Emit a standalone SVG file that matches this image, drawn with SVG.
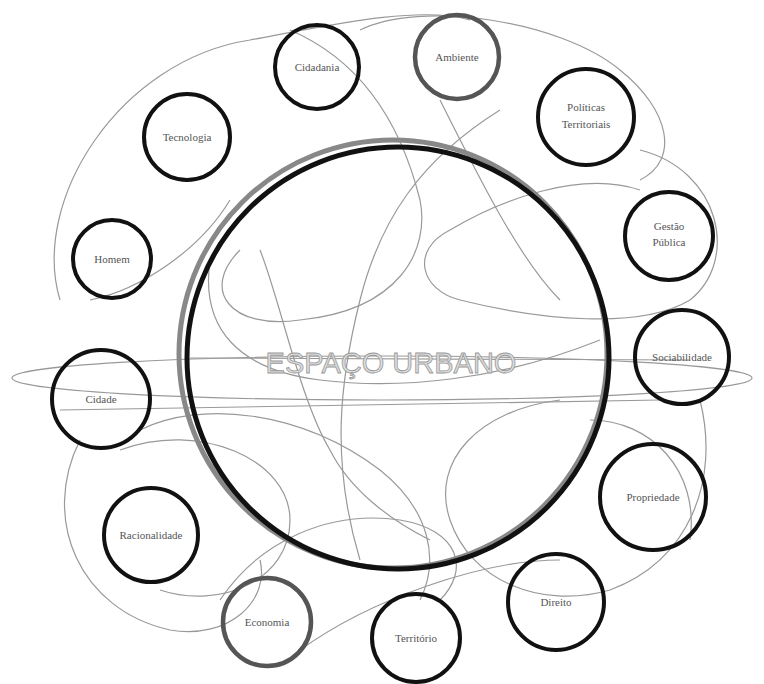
<svg xmlns="http://www.w3.org/2000/svg" width="764" height="684" viewBox="0 0 764 684">
<style>
.n{fill:none;stroke:#111;stroke-width:4}
.g{fill:none;stroke:#555;stroke-width:4.5}
.t{font-family:"Liberation Serif",serif;font-size:11px;fill:#555;text-anchor:middle}
.c{fill:none;stroke:#999;stroke-width:1.2}
</style>
<rect width="764" height="684" fill="#fff"/>
<g id="connectors">
<path class="c" d="M60,300 C30,200 120,60 250,40 C330,25 420,5 470,20"/>
<path class="c" d="M90,300 C140,290 200,250 230,200"/>
<path class="c" d="M360,30 C420,0 560,20 620,70 C670,110 680,160 640,180"/>
<path class="c" d="M290,30 C360,60 400,120 420,200 C430,250 400,310 300,320 C230,330 200,290 240,250"/>
<path class="c" d="M440,100 C480,180 520,260 560,300"/>
<path class="c" d="M500,110 C420,160 380,220 360,300 C340,380 330,460 360,560"/>
<path class="c" d="M640,150 C720,170 740,260 690,300 C640,330 540,320 460,300 C420,290 410,250 450,230 C500,200 580,170 640,190"/>
<path class="c" d="M190,358 L690,360"/>
<ellipse class="c" cx="382" cy="378" rx="370" ry="22"/>
<path class="c" d="M60,410 L660,400"/>
<path class="c" d="M210,260 C200,330 240,370 320,380 C400,390 500,380 600,340"/>
<path class="c" d="M700,400 C720,480 690,560 610,590 C540,610 470,580 450,520 C430,460 480,410 560,400"/>
<path class="c" d="M590,420 C650,420 700,470 690,540"/>
<path class="c" d="M80,440 C40,520 80,610 170,630 C230,640 270,600 260,560"/>
<path class="c" d="M120,450 C200,420 290,460 290,520 C290,580 220,610 160,590"/>
<path class="c" d="M220,600 C260,540 330,510 400,520 C460,530 470,570 440,600"/>
<path class="c" d="M300,650 C370,600 480,560 560,560"/>
<path class="c" d="M140,430 C200,400 300,410 380,470 C430,510 440,560 420,600"/>
<path class="c" d="M260,250 C280,300 300,400 330,450 C350,490 390,520 430,540"/>
</g>
<g id="espaco-urbano">
<circle cx="393" cy="354" r="214" fill="none" stroke="#888" stroke-width="5"/>
<circle cx="398" cy="358" r="211" fill="none" stroke="#111" stroke-width="5"/>
<text x="391" y="373" font-family="Liberation Sans, Arial, sans-serif" font-size="29" fill="#ddd" stroke="#999" stroke-width="0.8" text-anchor="middle">ESPAÇO URBANO</text>
</g>
<g id="cidadania"><circle class="n" cx="317" cy="67" r="42" stroke-width="3"/><text class="t" x="317" y="71">Cidadania</text></g>
<g id="ambiente"><circle class="g" cx="457" cy="57" r="42"/><text class="t" x="457" y="61">Ambiente</text></g>
<g id="politicas"><circle class="n" cx="586" cy="117" r="48"/><text class="t" x="586" y="111">Políticas</text><text class="t" x="586" y="128">Territoriais</text></g>
<g id="gestao"><circle class="n" cx="669" cy="236" r="44" stroke-width="3.5"/><text class="t" x="669" y="230">Gestão</text><text class="t" x="669" y="246">Pública</text></g>
<g id="sociabilidade"><circle class="n" cx="682" cy="357" r="47"/><text class="t" x="682" y="361">Sociabilidade</text></g>
<g id="propriedade"><circle class="n" cx="653" cy="497" r="53" stroke-width="3.5"/><text class="t" x="653" y="501">Propriedade</text></g>
<g id="direito"><circle class="n" cx="556" cy="602" r="48" stroke-width="5"/><text class="t" x="556" y="606">Direito</text></g>
<g id="territorio"><circle class="n" cx="416" cy="638" r="44"/><text class="t" x="416" y="642">Território</text></g>
<g id="economia"><circle class="g" cx="267" cy="622" r="44" stroke="#666" stroke-width="3.5"/><text class="t" x="267" y="626">Economia</text></g>
<g id="racionalidade"><circle class="n" cx="151" cy="535" r="47" stroke-width="3"/><text class="t" x="151" y="539">Racionalidade</text></g>
<g id="cidade"><circle class="n" cx="101" cy="399" r="49"/><text class="t" x="101" y="403">Cidade</text></g>
<g id="tecnologia"><circle class="n" cx="187" cy="137" r="43"/><text class="t" x="187" y="141">Tecnologia</text></g>
<g id="homem"><circle class="n" cx="112" cy="259" r="39"/><text class="t" x="112" y="263">Homem</text></g>
</svg>
